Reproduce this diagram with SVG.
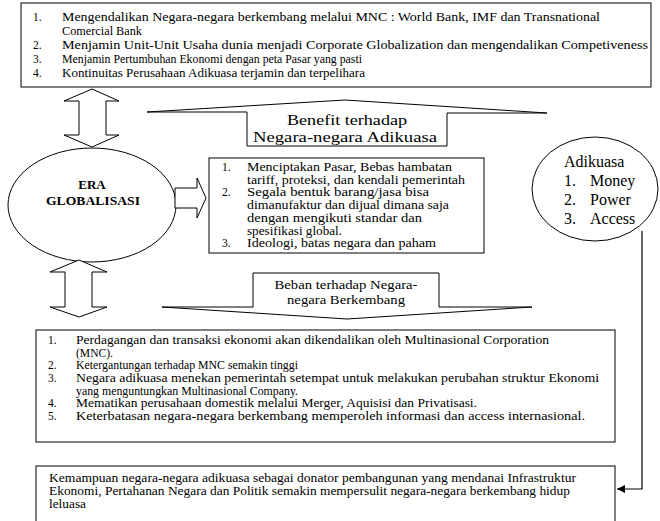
<svg xmlns="http://www.w3.org/2000/svg" width="660" height="521" viewBox="0 0 660 521">
<style>
.box{fill:#fff;stroke:#000;stroke-width:1}
.sh{fill:#fff;stroke:#000;stroke-width:1}
.t{font-family:"Liberation Serif","Times New Roman",serif;font-size:11.5px;fill:#000}
.n{font-family:"Liberation Serif","Times New Roman",serif;font-size:11.5px;fill:#000}
.b{font-family:"Liberation Serif","Times New Roman",serif;font-size:15px;fill:#000}
.a{font-family:"Liberation Serif","Times New Roman",serif;font-size:16px;fill:#000}
.m{font-family:"Liberation Serif","Times New Roman",serif;font-size:13px;fill:#000}
.bold{font-family:"Liberation Serif","Times New Roman",serif;font-size:13px;font-weight:bold;fill:#000}
.c{fill:none;stroke:#000;stroke-width:1.2}
</style>
<defs>
<marker id="ah" markerWidth="8" markerHeight="8" refX="8" refY="4" orient="auto" markerUnits="userSpaceOnUse">
<path d="M0,0 L8,4 L0,8 Z" fill="#000"/>
</marker>
</defs>
<rect width="660" height="521" fill="#fff"/>

<g id="top-box">
<rect class="box" x="21" y="3" width="630" height="84"/>
<text class="n" x="33" y="21">1.</text><text class="t" x="62" y="21" textLength="538" lengthAdjust="spacingAndGlyphs">Mengendalikan Negara-negara berkembang melalui MNC : World Bank, IMF dan Transnational</text>
<text class="t" x="62" y="35" textLength="80" lengthAdjust="spacingAndGlyphs">Comercial Bank</text>
<text class="n" x="33" y="49">2.</text><text class="t" x="62" y="49" textLength="586" lengthAdjust="spacingAndGlyphs">Menjamin Unit-Unit Usaha dunia menjadi Corporate Globalization dan mengendalikan Competiveness</text>
<text class="n" x="33" y="63">3.</text><text class="t" x="62" y="63" textLength="300" lengthAdjust="spacingAndGlyphs">Menjamin Pertumbuhan Ekonomi dengan peta Pasar yang pasti</text>
<text class="n" x="33" y="77">4.</text><text class="t" x="62" y="77" textLength="303" lengthAdjust="spacingAndGlyphs">Kontinuitas Perusahaan Adikuasa terjamin dan terpelihara</text>
</g>

<g id="arrow-top">
<path class="sh" d="M92,89 L119,101 L106,101 L106,135 L119,135 L92,147 L64,135 L79,135 L79,101 L64,101 Z"/>
</g>

<g id="benefit">
<path class="sh" d="M247,146 L247,112 L147,112 L345,100 L547,113 L447,113 L447,146 Z"/>
<text class="b" x="347" y="125" text-anchor="middle" textLength="120" lengthAdjust="spacingAndGlyphs">Benefit terhadap</text>
<text class="b" x="345" y="141.5" text-anchor="middle" textLength="184" lengthAdjust="spacingAndGlyphs">Negara-negara Adikuasa</text>
</g>

<g id="era">
<ellipse class="sh" cx="92" cy="205" rx="84" ry="57"/>
<text class="bold" x="92" y="189" text-anchor="middle">ERA</text>
<text class="bold" x="93" y="205" text-anchor="middle" textLength="94" lengthAdjust="spacingAndGlyphs">GLOBALISASI</text>
</g>

<g id="arrow-right">
<path class="sh" d="M175,188 L197,188 L197,178 L206,198 L197,218 L197,208 L175,208 Z"/>
</g>

<g id="mid-box">
<rect class="box" x="209" y="158" width="275" height="95"/>
<text class="n" x="222" y="171">1.</text><text class="t" x="247" y="171" textLength="205" lengthAdjust="spacingAndGlyphs">Menciptakan Pasar, Bebas hambatan</text>
<text class="t" x="247" y="183.7" textLength="218" lengthAdjust="spacingAndGlyphs">tariff, proteksi, dan kendali pemerintah</text>
<text class="n" x="222" y="196.4">2.</text><text class="t" x="247" y="196.4" textLength="182" lengthAdjust="spacingAndGlyphs">Segala bentuk barang/jasa bisa</text>
<text class="t" x="247" y="209.1" textLength="202" lengthAdjust="spacingAndGlyphs">dimanufaktur dan dijual dimana saja</text>
<text class="t" x="247" y="221.8" textLength="175" lengthAdjust="spacingAndGlyphs">dengan mengikuti standar dan</text>
<text class="t" x="247" y="234.5" textLength="95" lengthAdjust="spacingAndGlyphs">spesifikasi global.</text>
<text class="n" x="222" y="247.2">3.</text><text class="t" x="247" y="247.2" textLength="189" lengthAdjust="spacingAndGlyphs">Ideologi, batas negara dan paham</text>
</g>

<g id="adikuasa">
<ellipse class="sh" cx="595" cy="189" rx="63" ry="52"/>
<text class="a" x="564" y="167">Adikuasa</text>
<text class="a" x="564" y="186">1.</text><text class="a" x="590" y="186">Money</text>
<text class="a" x="564" y="205">2.</text><text class="a" x="590" y="205">Power</text>
<text class="a" x="564" y="224">3.</text><text class="a" x="590" y="224">Access</text>
</g>

<g id="arrow-bottom">
<path class="sh" d="M79,260 L107,272 L92,272 L92,307 L107,307 L79,317 L50,307 L65,307 L65,272 L50,272 Z"/>
</g>

<g id="beban">
<path class="sh" d="M253,273 L439,273 L439,307 L532,307 L347,319 L162,307 L253,307 Z"/>
<text class="m" x="346" y="289" text-anchor="middle" textLength="143" lengthAdjust="spacingAndGlyphs">Beban terhadap Negara-</text>
<text class="m" x="346" y="304" text-anchor="middle" textLength="118" lengthAdjust="spacingAndGlyphs">negara Berkembang</text>
</g>

<g id="bottom-box">
<rect class="box" x="36" y="330" width="579" height="112"/>
<text class="n" x="48" y="344">1.</text><text class="t" x="76" y="344" textLength="473" lengthAdjust="spacingAndGlyphs">Perdagangan dan transaksi ekonomi akan dikendalikan oleh Multinasional Corporation</text>
<text class="t" x="76" y="356.7" textLength="37" lengthAdjust="spacingAndGlyphs">(MNC).</text>
<text class="n" x="48" y="369.3">2.</text><text class="t" x="76" y="369.3" textLength="222" lengthAdjust="spacingAndGlyphs">Ketergantungan terhadap MNC semakin tinggi</text>
<text class="n" x="48" y="382">3.</text><text class="t" x="76" y="382" textLength="523" lengthAdjust="spacingAndGlyphs">Negara adikuasa menekan pemerintah setempat untuk melakukan perubahan struktur Ekonomi</text>
<text class="t" x="76" y="394.7" textLength="222" lengthAdjust="spacingAndGlyphs">yang menguntungkan Multinasional Company.</text>
<text class="n" x="48" y="407.3">4.</text><text class="t" x="76" y="407.3" textLength="401" lengthAdjust="spacingAndGlyphs">Mematikan perusahaan domestik melalui Merger, Aquisisi dan Privatisasi.</text>
<text class="n" x="48" y="420">5.</text><text class="t" x="76" y="420" textLength="509" lengthAdjust="spacingAndGlyphs">Keterbatasan negara-negara berkembang memperoleh informasi dan access internasional.</text>
</g>

<g id="lower-box">
<rect class="box" x="36" y="466" width="579" height="70"/>
<text class="t" x="49" y="482" textLength="527" lengthAdjust="spacingAndGlyphs">Kemampuan negara-negara adikuasa sebagai donator pembangunan yang mendanai Infrastruktur</text>
<text class="t" x="49" y="495" textLength="521" lengthAdjust="spacingAndGlyphs">Ekonomi, Pertahanan Negara dan Politik semakin mempersulit negara-negara berkembang hidup</text>
<text class="t" x="49" y="508" textLength="37" lengthAdjust="spacingAndGlyphs">leluasa</text>
</g>

<g id="connectors">
<path class="c" d="M642,231 L642,489 L617,489" marker-end="url(#ah)"/>
</g>
</svg>
